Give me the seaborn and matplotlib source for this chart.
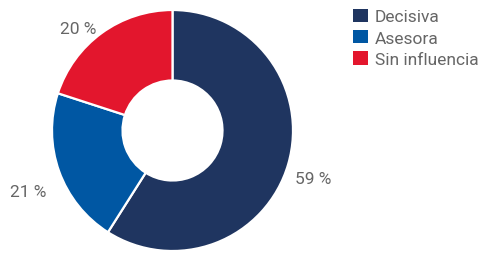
import matplotlib
matplotlib.use("Agg")
import matplotlib.pyplot as plt
from matplotlib.patches import Patch
import seaborn as sns

categories = ["Decisiva", "Asesora", "Sin influencia"]
values = [59, 21, 20]
label_texts = ["59 %", "21 %", "20 %"]
colors = ["#1f3560", "#0057a3", "#e3162d"]

sns.set_theme(style="white")
plt.rcParams['font.family'] = ['Roboto', 'DejaVu Sans']
palette = sns.color_palette(colors)

W, H = 480, 255
fig = plt.figure(figsize=(W / 100, H / 100), dpi=100)
cx, cy, r = 172.5, 131.5, 120.5
ax = fig.add_axes([(cx - r) / W, (H - cy - r) / H, 2 * r / W, 2 * r / H])
ax.pie(values, colors=palette, startangle=90, counterclock=False, radius=1,
       wedgeprops=dict(width=1 - 50 / r, edgecolor="white", linewidth=1.6))
ax.set_xlim(-1, 1)
ax.set_ylim(-1, 1)
ax.set_aspect("equal")
ax.axis("off")

label_pos = [(1.165, -0.400), (-1.195, -0.510), (-0.785, 0.845)]
for (x, y), t in zip(label_pos, label_texts):
    ax.text(x, y, t, ha="center", va="center", fontsize=12.5, color="#666666", clip_on=False)

handles = [Patch(facecolor=c, edgecolor="none") for c in palette]
leg = fig.legend(handles, categories, loc="upper left", bbox_to_anchor=(353 / W, 1 - 9.5 / H),
                 frameon=False, fontsize=12.5, handlelength=0.85, handleheight=0.85,
                 handletextpad=0.4, labelspacing=0.3, borderpad=0, borderaxespad=0)
for t in leg.get_texts():
    t.set_color("#666666")

fig.savefig("out.png", dpi=100)
